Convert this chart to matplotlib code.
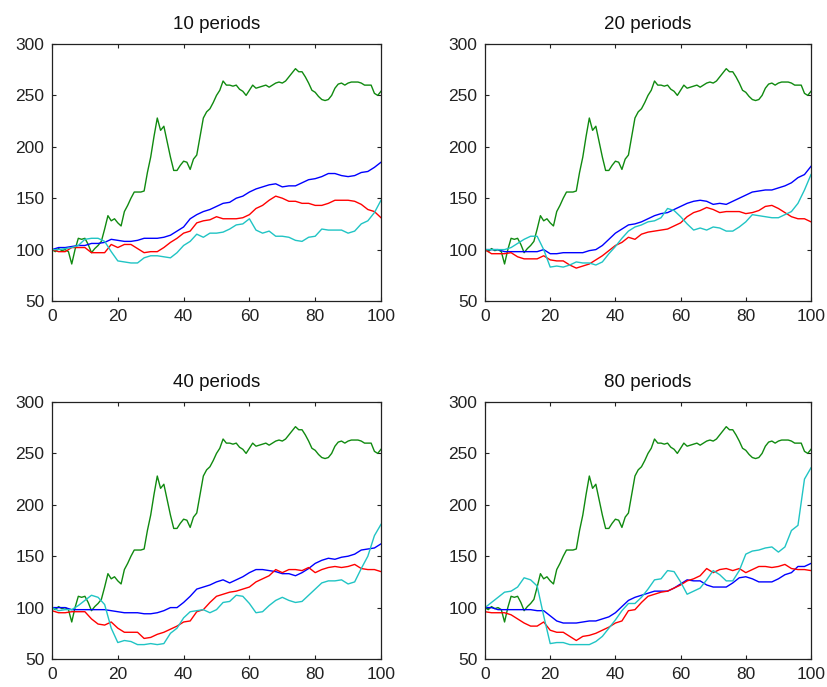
import matplotlib
matplotlib.use("Agg")
import matplotlib.pyplot as plt
import numpy as np

# Price series (green), same in every panel
x_price = list(range(0, 101))
price = [100, 98, 101, 99, 100, 98, 86, 100, 111, 110,
         111, 105, 97, 101, 104, 108, 120, 133, 128, 130,
         126, 123, 137, 143, 150, 156, 156, 156, 157, 175,
         190, 210, 228, 216, 220, 205, 190, 177, 177, 182,
         186, 185, 178, 188, 192, 210, 228, 234, 237, 243,
         250, 255, 264, 260, 260, 259, 260, 256, 254, 250,
         255, 260, 257, 258, 259, 260, 258, 260, 262, 263,
         262, 264, 268, 272, 276, 273, 273, 268, 262, 255,
         253, 249, 246, 245, 246, 250, 257, 261, 262, 260,
         262, 263, 263, 263, 262, 260, 260, 260, 252, 250,
         254]

x_strat = list(range(0, 101, 2))

titles = ["10 periods", "20 periods", "40 periods", "80 periods"]

blue_10 = [100, 102, 102, 103, 104, 104, 106, 106, 107, 110,
           109, 108, 108, 109, 111, 111, 111, 112, 114, 118,
           122, 130, 134, 137, 139, 142, 145, 146, 150, 152,
           156, 159, 161, 163, 164, 161, 162, 162, 165, 168,
           169, 171, 174, 174, 172, 171, 172, 175, 176, 180,
           185]
red_10 = [100, 98, 98, 102, 102, 102, 97, 97, 97, 105,
          102, 105, 105, 101, 97, 98, 98, 102, 107, 111,
          116, 118, 126, 128, 129, 132, 130, 130, 130, 131,
          134, 140, 143, 148, 152, 150, 147, 147, 145, 145,
          143, 143, 145, 148, 148, 148, 147, 144, 139, 137,
          131]
cyan_10 = [100, 100, 101, 102, 104, 110, 111, 111, 108, 98,
           89, 88, 87, 87, 92, 94, 94, 93, 92, 97,
           104, 108, 115, 112, 116, 116, 117, 120, 124, 125,
           130, 119, 116, 118, 113, 113, 112, 109, 108, 112,
           113, 120, 119, 119, 119, 116, 118, 125, 128, 136,
           148]

blue_20 = [100, 100, 100, 98, 98, 98, 98, 98, 98, 100,
           96, 96, 97, 97, 97, 97, 99, 100, 104, 110,
           116, 120, 124, 125, 127, 130, 133, 135, 136, 139,
           142, 145, 147, 148, 147, 144, 145, 144, 147, 150,
           153, 156, 157, 158, 158, 160, 162, 165, 170, 173,
           181]
red_20 = [100, 96, 96, 96, 97, 93, 91, 91, 91, 94,
          90, 89, 89, 85, 82, 84, 86, 90, 94, 99,
          104, 107, 112, 110, 115, 117, 118, 119, 120, 123,
          126, 132, 136, 138, 141, 139, 136, 137, 137, 137,
          135, 136, 138, 142, 143, 140, 136, 132, 130, 130,
          127]
cyan_20 = [100, 100, 100, 100, 102, 106, 110, 113, 113, 100,
           83, 84, 83, 85, 88, 87, 87, 85, 88, 96,
           103, 111, 118, 122, 124, 127, 128, 131, 140, 138,
           132, 125, 119, 121, 119, 122, 121, 118, 118, 122,
           127, 134, 133, 132, 131, 131, 134, 137, 145, 158,
           173]

blue_40 = [100, 100, 100, 98, 98, 98, 98, 98, 98, 97,
           96, 95, 95, 95, 94, 94, 95, 97, 100, 100,
           105, 111, 118, 120, 122, 125, 127, 124, 127, 130,
           134, 137, 137, 136, 135, 133, 133, 131, 134, 138,
           143, 146, 148, 147, 149, 150, 152, 156, 157, 158,
           162]
red_40 = [97, 95, 95, 96, 96, 96, 89, 84, 83, 86,
          80, 76, 76, 76, 70, 71, 74, 76, 79, 82,
          86, 87, 96, 98, 105, 111, 113, 115, 116, 118,
          120, 125, 128, 131, 137, 134, 137, 137, 136, 139,
          134, 137, 139, 140, 139, 140, 142, 138, 137, 137,
          135]
cyan_40 = [100, 97, 98, 98, 102, 107, 112, 110, 103, 80,
           66, 68, 67, 64, 64, 65, 64, 65, 75, 80,
           90, 96, 97, 98, 95, 98, 105, 106, 112, 111,
           104, 95, 96, 102, 107, 110, 107, 105, 106, 112,
           118, 124, 126, 126, 127, 123, 125, 138, 150, 170,
           181]

blue_80 = [100, 100, 98, 98, 98, 98, 98, 98, 97, 97,
           92, 87, 85, 85, 85, 86, 87, 87, 89, 91,
           95, 101, 107, 110, 112, 114, 116, 116, 116, 119,
           123, 127, 126, 126, 122, 120, 120, 120, 124, 129,
           130, 128, 125, 125, 125, 128, 132, 134, 140, 140,
           143]
red_80 = [96, 95, 95, 95, 93, 89, 85, 82, 82, 86,
          78, 76, 76, 72, 68, 72, 73, 75, 78, 81,
          85, 87, 97, 98, 105, 111, 113, 115, 116, 119,
          122, 126, 128, 131, 138, 134, 137, 138, 136, 138,
          134, 137, 140, 140, 139, 140, 142, 138, 137, 137,
          136]
cyan_80 = [100, 105, 110, 115, 116, 120, 129, 127, 121, 92,
           65, 66, 66, 64, 64, 64, 64, 67, 72, 80,
           88, 97, 104, 104, 110, 118, 127, 128, 136, 135,
           125, 113, 116, 119, 127, 136, 132, 126, 126, 136,
           152, 155, 156, 158, 159, 154, 159, 175, 180, 225,
           236]

blues = [blue_10, blue_20, blue_40, blue_80]
reds = [red_10, red_20, red_40, red_80]
cyans = [cyan_10, cyan_20, cyan_40, cyan_80]

plt.rcParams['font.family'] = ['Liberation Sans', 'DejaVu Sans']

fig = plt.figure(figsize=(8.28, 6.87), dpi=100)
W, H = 828.0, 687.0
lefts = [52, 485, 52, 485]
tops = [44, 44, 402, 402]
widths = [329, 326, 329, 326]
ah = 257

for i in range(4):
    ax = fig.add_axes([lefts[i] / W, 1 - (tops[i] + ah) / H, widths[i] / W, ah / H])
    ax.plot(x_price, price, color='#108a10', lw=1.0)
    ax.plot(x_strat, blues[i], color='#0000ff', lw=1.0)
    ax.plot(x_strat, reds[i], color='#ff0000', lw=1.0)
    ax.plot(x_strat, cyans[i], color='#20c4c4', lw=1.0)
    ax.set_xlim(0, 100)
    ax.set_ylim(50, 300)
    ax.set_xticks([0, 20, 40, 60, 80, 100])
    ax.set_yticks([50, 100, 150, 200, 250, 300])
    ax.tick_params(direction='in', top=True, right=True, length=3,
                   labelsize=12.5, pad=5.5, colors='#222222')
    for s in ax.spines.values():
        s.set_color('#222222')
        s.set_linewidth(0.9)
    ax.set_title(titles[i], fontsize=13.5, pad=11, color='#111111')

fig.savefig('out.png', dpi=100)
